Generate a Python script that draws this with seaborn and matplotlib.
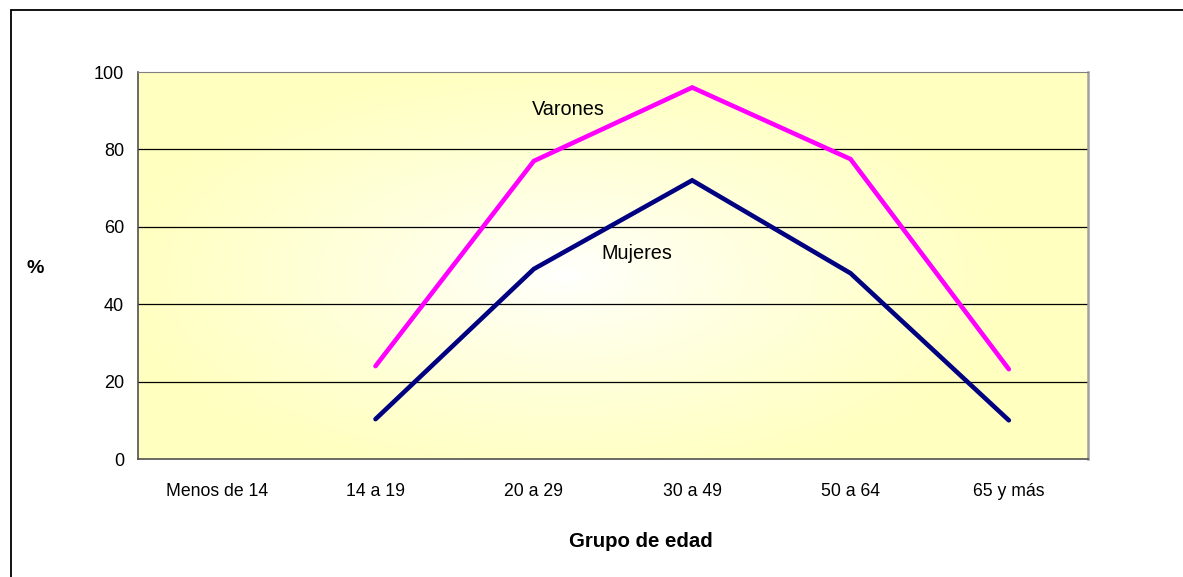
import numpy as np
import pandas as pd
import matplotlib
matplotlib.use("Agg")
import matplotlib.pyplot as plt
import seaborn as sns

# --- datos ---
grupos = ["Menos de 14", "14 a 19", "20 a 29", "30 a 49", "50 a 64", "65 y más"]
varones = [np.nan, 24.0, 77.0, 96.0, 77.5, 23.2]
mujeres = [np.nan, 10.3, 49.1, 72.0, 48.0, 10.0]
y_ticks = [0, 20, 40, 60, 80, 100]

sns.set_style("white")
plt.rcParams["font.family"] = ["Liberation Sans", "DejaVu Sans"]
plt.rcParams["text.color"] = "black"
plt.rcParams["xtick.labelcolor"] = "black"
plt.rcParams["ytick.labelcolor"] = "black"

df = pd.DataFrame({"pos": range(len(grupos)), "Varones": varones, "Mujeres": mujeres})
df_long = df.melt(id_vars="pos", var_name="Sexo", value_name="pct").dropna()

W, H = 1183, 577
fig = plt.figure(figsize=(W / 100, H / 100), dpi=100)
ax = fig.add_axes([138 / W, (H - 459) / H, 950 / W, 387 / H])

# fondo con degradado desde el centro (blanco -> amarillo claro)
nx, ny = 400, 200
xx, yy = np.meshgrid(np.linspace(-1, 1, nx), np.linspace(-1, 1, ny))
d = np.clip(np.sqrt(((xx + 0.1) / 0.95) ** 2 + ((yy + 0.05) / 1.1) ** 2), 0, 1)
d = d ** 0.8
borde = np.array([255, 255, 192]) / 255.0
img = (1 - d[..., None]) * np.ones(3) + d[..., None] * borde
ax.imshow(img, extent=[-0.5, 5.5, 0, 100], aspect="auto", zorder=0, origin="lower")

for v in y_ticks[1:-1]:
    ax.axhline(v, color="black", lw=0.9, zorder=1)

sns.lineplot(data=df_long, x="pos", y="pct", hue="Sexo",
             palette={"Varones": "#FF00FF", "Mujeres": "#000080"},
             lw=3.3, legend=False, ax=ax, zorder=3,
             solid_capstyle="round", solid_joinstyle="miter")

ax.set_xlim(-0.5, 5.5)
ax.set_ylim(0, 100)
ax.set_yticks(y_ticks)
ax.set_yticklabels([str(t) for t in y_ticks], fontsize=13)
ax.set_xticks(range(len(grupos)))
ax.set_xticklabels(grupos, fontsize=12.7)
ax.set_xticks(np.arange(-0.5, 6, 1), minor=True)
ax.tick_params(axis="x", which="major", length=0, pad=17)
ax.tick_params(axis="x", which="minor", length=5, width=1, color="#404040", direction="out")
ax.tick_params(axis="y", length=6, width=1, color="#404040", direction="out", pad=4)
ax.set_xlabel("")
ax.set_ylabel("")

for lado in ["left", "bottom"]:
    ax.spines[lado].set_color("#505050")
    ax.spines[lado].set_linewidth(1.2)
ax.spines["top"].set_color("#808080")
ax.spines["right"].set_color("#a0a0a0")
ax.spines["right"].set_linewidth(1.8)

ax.text(2.216, 90.2, "Varones", fontsize=14.3, ha="center", va="center", zorder=4)
ax.text(2.652, 53.0, "Mujeres", fontsize=14.3, ha="center", va="center", zorder=4)

fig.text(35 / W, 1 - 268 / H, "%", fontsize=14, fontweight="bold", ha="center", va="center")
fig.text(641 / W, 1 - 541.5 / H, "Grupo de edad", fontsize=14.7, fontweight="bold",
         ha="center", va="center")

# marco del gráfico (solo izquierda y arriba visibles)
fig.add_artist(plt.Line2D([10.5 / W, 10.5 / W], [0, 1 - 10 / H], color="black", lw=1.3))
fig.add_artist(plt.Line2D([10.5 / W, 1], [1 - 10 / H, 1 - 10 / H], color="black", lw=1.3))

fig.savefig("out.png", dpi=100)
